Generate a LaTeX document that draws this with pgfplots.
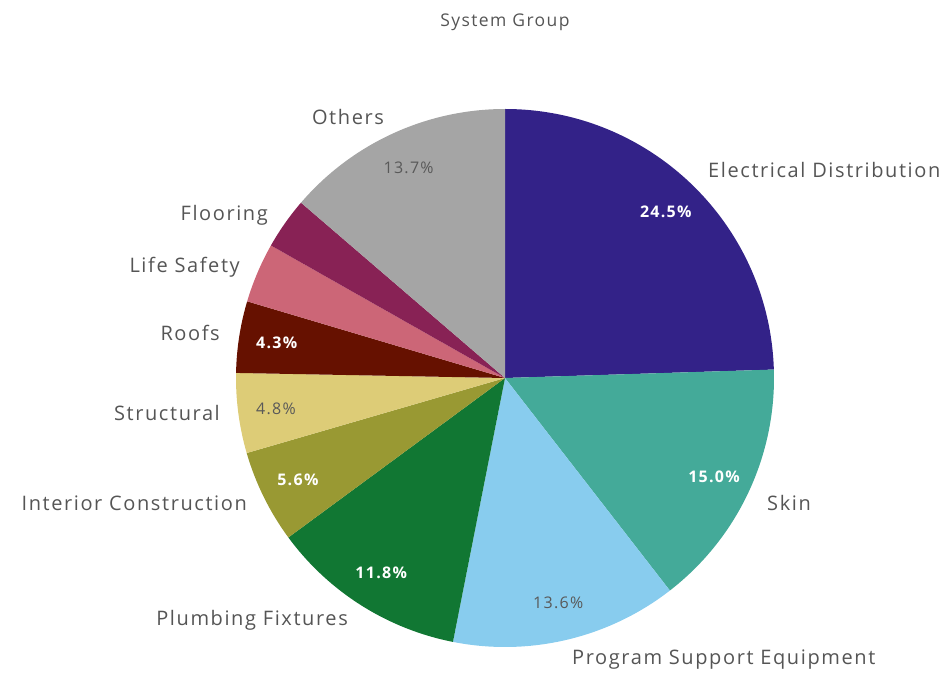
\documentclass[border=0pt]{standalone}
\usepackage{pgfplots}
\pgfplotsset{compat=1.18}
\usepackage{pgfplotstable}
\usepackage{fontspec}
\setmainfont[LetterSpace=8]{Open Sans}
\definecolor{cElec}{HTML}{332288}
\definecolor{cSkin}{HTML}{44AA99}
\definecolor{cPSE}{HTML}{88CCEE}
\definecolor{cPlumb}{HTML}{117733}
\definecolor{cInt}{HTML}{999933}
\definecolor{cStruct}{HTML}{DDCC77}
\definecolor{cRoof}{HTML}{661100}
\definecolor{cLife}{HTML}{CC6677}
\definecolor{cFloor}{HTML}{882255}
\definecolor{cOther}{HTML}{A5A5A5}
\definecolor{cTxt}{HTML}{555555}
\definecolor{cIn}{HTML}{595959}

\pgfplotstableread[col sep=comma]{
name,value,fill,pct,lx,ly,anc
Electrical Distribution,24.5,cElec,white,708,503,west
Skin,15.0,cSkin,white,767,170,west
Program Support Equipment,13.6,cPSE,cIn,572,13,west
Plumbing Fixtures,11.8,cPlumb,white,348,53,east
Interior Construction,5.6,cInt,white,247,170,east
Structural,4.8,cStruct,cIn,220,260,east
Roofs,4.3,cRoof,white,220,340,east
Life Safety,3.6,cLife,none,240,406,east
Flooring,3.1,cFloor,none,268,458,east
Others,13.7,cOther,cIn,348,556,center
}\piedata

\tikzset{
  outlbl/.style={text=cTxt, font=\fontsize{20}{20}\selectfont, inner sep=0pt},
  wlbl/.style={font=\fontsize{16}{16}\selectfont\bfseries, inner sep=0pt},
  glbl/.style={font=\fontsize{16}{16}\selectfont, inner sep=0pt},
}
\def\nonestr{none}
\def\whitestr{white}

\begin{document}
\begin{tikzpicture}
\begin{axis}[
  width=951pt, height=673pt, scale only axis,
  xmin=0, xmax=951, ymin=0, ymax=673,
  hide axis, clip=false,
]
\path (axis cs:0,0) rectangle (axis cs:951,673);
\def\cum{0}
\pgfplotsforeachungrouped \i in {0,...,9}{%
  \pgfplotstablegetelem{\i}{value}\of\piedata \let\v\pgfplotsretval
  \pgfplotstablegetelem{\i}{fill}\of\piedata \let\f\pgfplotsretval
  \pgfplotstablegetelem{\i}{pct}\of\piedata \let\p\pgfplotsretval
  \pgfplotstablegetelem{\i}{name}\of\piedata \let\n\pgfplotsretval
  \pgfplotstablegetelem{\i}{lx}\of\piedata \let\lx\pgfplotsretval
  \pgfplotstablegetelem{\i}{ly}\of\piedata \let\ly\pgfplotsretval
  \pgfplotstablegetelem{\i}{anc}\of\piedata \let\an\pgfplotsretval
  \pgfmathsetmacro\a{90-3.6*\cum}
  \pgfmathsetmacro\b{90-3.6*(\cum+\v)}
  \pgfmathsetmacro\m{(\a+\b)/2}
  \edef\temp{\noexpand\fill[\f] (axis cs:505,295) -- ++(\a:269pt) arc[start angle=\a, end angle=\b, radius=269pt] -- cycle;}%
  \temp
  \edef\temp{\noexpand\node[outlbl, anchor=\an] at (axis cs:\lx,\ly) {\n};}%
  \temp
  \ifx\p\nonestr\else
    \ifx\p\whitestr
      \edef\temp{\noexpand\node[wlbl, text=\p] at ([shift={(\m:231pt)}]axis cs:505,295) {\v\noexpand\%};}%
    \else
      \edef\temp{\noexpand\node[glbl, text=\p] at ([shift={(\m:231pt)}]axis cs:505,295) {\v\noexpand\%};}%
    \fi
    \temp
  \fi
  \pgfmathsetmacro\cum{\cum+\v}%
}
\node[text=cTxt, font=\fontsize{17.5}{17.5}\selectfont, inner sep=0pt] at (axis cs:505,651) {System Group};
\end{axis}
\end{tikzpicture}
\end{document}
